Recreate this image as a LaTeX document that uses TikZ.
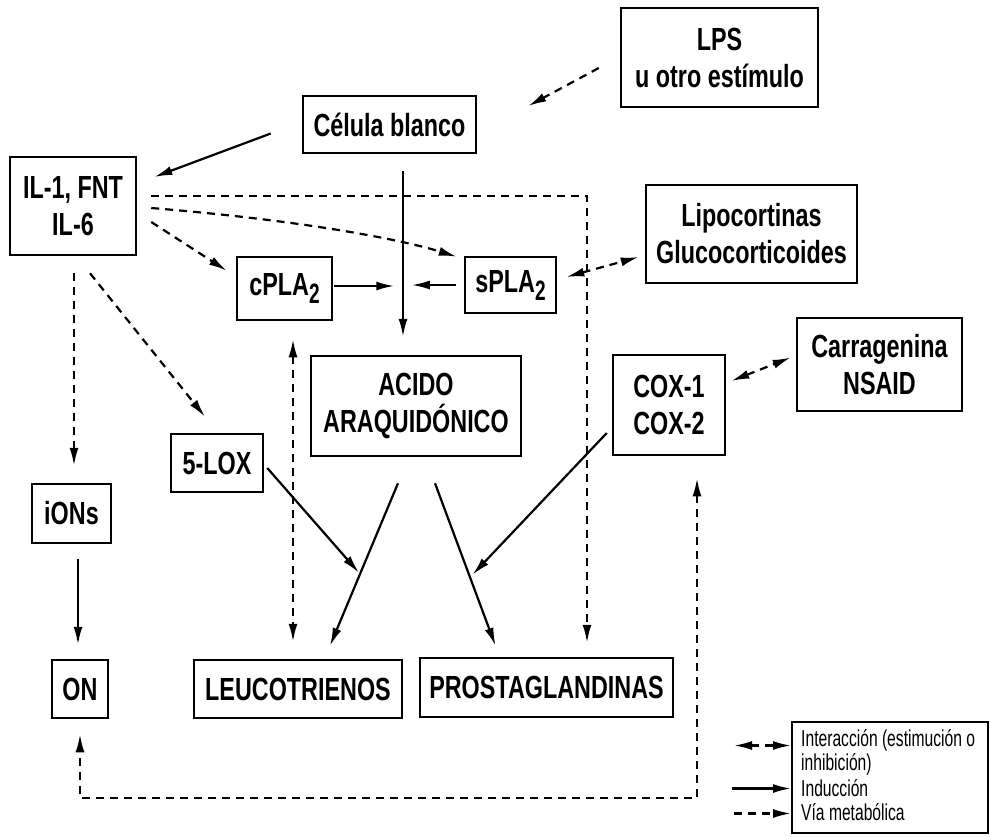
\documentclass[tikz,border=0pt]{standalone}
\usepackage{fontspec}
\usetikzlibrary{arrows.meta,calc}
\newfontfamily\boxfamily{Liberation Sans}[FakeStretch=0.73]
\newfontfamily\legfamily{Liberation Sans}[FakeStretch=0.68]
\newcommand{\boxfnt}{\boxfamily\bfseries\fontsize{32}{37}\selectfont}
\newcommand{\legfnt}{\legfamily\fontsize{23}{25}\selectfont}
\newcommand{\subtwo}{\raisebox{-8pt}{\legfamily\fontsize{28}{28}\selectfont 2}}
\tikzset{
  box/.style={draw, line width=2.5pt, inner sep=0pt, align=center, font=\boxfnt},
  tip/.tip={Latex[length=18pt,width=9pt]},
  ind/.style={line width=2.2pt, -tip},
  via/.style={line width=2.2pt, dash pattern=on 8pt off 6pt, -tip},
  inter/.style={line width=2.2pt, dash pattern=on 8pt off 6pt, tip-tip},
  legbox/.style={draw, line width=2pt, inner sep=0pt},
  legtext/.style={anchor=west, inner sep=0pt, font=\legfnt},
}
\begin{document}
\begin{tikzpicture}[x=1pt,y=-1pt]
\useasboundingbox (0,0) rectangle (990,836);

% boxes
\node[box, minimum width=197pt, minimum height=99pt]  (lps)    at (719.5,57.5) {LPS\\u otro estímulo};
\node[box, minimum width=173pt, minimum height=57pt]  (cel)    at (389.5,124.5) {Célula blanco};
\node[box, minimum width=126pt, minimum height=98pt]  (il)     at (73,206) {IL-1, FNT\\IL-6};
\node[box, minimum width=211pt, minimum height=98pt]  (lip)    at (751.5,234) {Lipocortinas\\Glucocorticoides};
\node[box, minimum width=95pt,  minimum height=63pt]  (cpla)   at (284.5,288.5) {cPLA\subtwo};
\node[box, minimum width=91pt,  minimum height=56pt]  (spla)   at (510.5,285) {sPLA\subtwo};
\node[box, minimum width=165pt, minimum height=93pt]  (car)    at (879.5,364.5) {Carragenina\\NSAID};
\node[box, minimum width=210pt, minimum height=100pt] (acido)  at (416,406) {ACIDO\\ARAQUIDÓNICO};
\node[box, minimum width=112pt, minimum height=100pt] (cox)    at (669,405) {COX-1\\COX-2};
\node[box, minimum width=92pt,  minimum height=58pt]  (lox)    at (217,463) {5-LOX};
\node[box, minimum width=79pt,  minimum height=59pt]  (ions)   at (71.5,513.5) {iONs};
\node[box, minimum width=56pt,  minimum height=58pt]  (on)     at (80,689) {ON};
\node[box, minimum width=208pt, minimum height=58pt]  (leuco)  at (298,689) {LEUCOTRIENOS};
\node[box, minimum width=253pt, minimum height=59pt]  (prosta) at (546.5,687.5) {PROSTAGLANDINAS};

% connectors
\draw[via] ($(lps.west)+(-21,10.5)$) -- ($(cel.east)+(51,-18.5)$);
\draw[ind] ($(cel.west)+(-31,9)$) -- ($(il.east)+(17,-29)$);
\draw[ind] ($(cel.south)+(13.5,17)$) -- ($(acido.north)+(-13,-18)$);
\draw[via] ($(il.east)+(14,-10)$) -| ($(prosta.north)+(40.5,-14)$);
\draw[via] ($(il.east)+(14,2)$) .. controls +(170,14) and +(-45,-14) .. ($(spla.north west)+(-7,1)$);
\draw[via] ($(il.east)+(14,16)$) -- ($(cpla.north west)+(-9,15)$);
\draw[via] ($(il.south)+(1,17)$) -- ($(ions.north)+(2.5,-17)$);
\draw[via] ($(il.south)+(17,17)$) -- ($(lox.north)+(-12,-16)$);
\draw[ind] ($(cpla.east)+(1,-2.5)$) -- ++(60,0);
\draw[ind] ($(spla.west)+(-8,0)$) -- ++(-44,0);
\draw[inter] ($(spla.east)+(9,-8)$) -- ($(lip.west)+(-6,23)$);
\draw[inter] ($(cpla.south)+(8.5,18)$) -- ($(leuco.north)+(-5,-17)$);
\draw[ind] ($(lox.east)+(3,5)$) -- ($(leuco.north)+(61,-86)$);
\draw[ind] ($(acido.south)+(-18,26)$) -- ($(leuco.north)+(32,-13)$);
\draw[ind] ($(acido.south)+(19,26)$) -- ($(prosta.north)+(-51,-11)$);
\draw[ind] ($(cox.west)+(-5,28)$) -- ($(prosta.north)+(-74,-82)$);
\draw[inter] ($(cox.east)+(5,-24)$) -- ($(car.west)+(-5,-7)$);
\draw[inter] ($(cox.south)+(28,22)$) |- ($(on.south)+(0,79)$) -- ($(on.south)+(0,15)$);
\draw[ind] ($(ions.south)+(6.5,15)$) -- ($(on.north)+(-2,-14)$);

% legend
\node[legbox, minimum width=196pt, minimum height=111pt] (leg) at (890,777.5) {};
\node[legtext] (lg1) at (801,740) {Interacción (estimución o};
\node[legtext] (lg2) at (801,764) {inhibición)};
\node[legtext] (lg3) at (801,788) {Inducción};
\node[legtext] (lg4) at (801,812) {Vía metabólica};
\draw[inter] ($(leg.west)+(-57,-32)$) -- ($(leg.west)+(0,-32)$);
\draw[ind] ($(leg.west)+(-59,11)$) -- ($(leg.west)+(0,11)$);
\draw[via] ($(leg.west)+(-57,36)$) -- ($(leg.west)+(0,36)$);
\end{tikzpicture}
\end{document}
